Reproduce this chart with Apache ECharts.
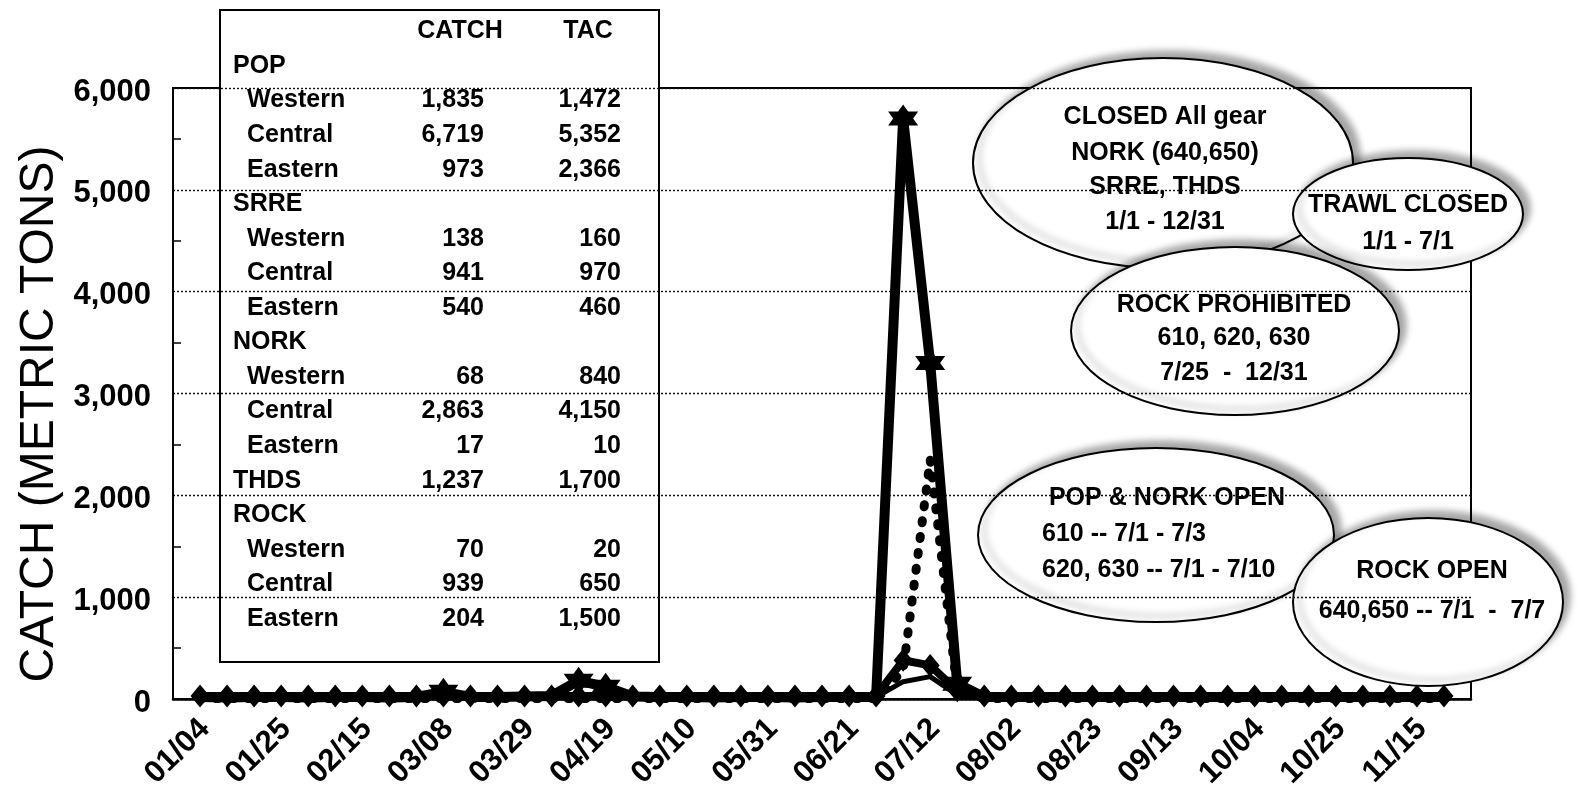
<!DOCTYPE html>
<html>
<head>
<meta charset="utf-8">
<script src="https://cdn.jsdelivr.net/npm/echarts@6/dist/echarts.min.js"></script>
<style>
html, body { margin: 0; padding: 0; background: #ffffff; }
#chart { width: 1584px; height: 791px; }
</style>
</head>
<body>
<div id="chart"></div>
<script>
// Weekly catch by fishery (metric tons), week-ending dates
const weeks = ['12/28','01/04','01/11','01/18','01/25','02/01','02/08','02/15','02/22','03/01',
  '03/08','03/15','03/22','03/29','04/05','04/12','04/19','04/26','05/03','05/10',
  '05/17','05/24','05/31','06/07','06/14','06/21','06/28','07/05','07/12','07/19',
  '07/26','08/02','08/09','08/16','08/23','08/30','09/06','09/13','09/20','09/27',
  '10/04','10/11','10/18','10/25','11/01','11/08','11/15','11/22','11/29'];

const popCatch = [null,20,15,20,20,15,20,20,15,20,
  70,20,20,25,30,180,120,25,20,20,
  15,20,20,15,20,20,20,5700,3300,150,
  20,20,20,20,20,20,20,20,20,20,
  20,20,20,20,20,20,20,20,null];

const norkCatch = [null,5,5,5,5,5,5,5,5,5,
  5,5,5,5,5,5,5,5,5,5,
  5,5,5,5,5,5,5,280,2350,90,
  5,5,5,5,5,5,5,5,5,5,
  5,5,5,5,5,5,5,5,null];

const rockCatch = [null,30,30,30,30,30,30,30,30,30,
  30,30,30,30,30,30,30,30,30,30,
  30,30,30,30,30,30,30,380,330,80,
  30,30,30,30,30,30,30,30,30,30,
  30,30,30,30,30,30,30,30,null];

const thdsCatch = [null,10,10,10,10,10,10,10,10,10,
  10,10,10,10,10,10,10,10,10,10,
  10,10,10,10,10,10,20,170,220,40,
  10,10,10,10,10,10,10,10,10,10,
  10,10,10,10,10,10,10,10,null];

// Catch / TAC summary table
const tableRows  = ['POP','Western','Central','Eastern','SRRE','Western','Central','Eastern',
  'NORK','Western','Central','Eastern','THDS','ROCK','Western','Central','Eastern'];
const tableCatch = [null,1835,6719,973,null,138,941,540,null,68,2863,17,1237,null,70,939,204];
const tableTac   = [null,1472,5352,2366,null,160,970,460,null,840,4150,10,1700,null,20,650,1500];
const groupNames = ['POP','SRRE','NORK','THDS','ROCK'];

// Fishery status notes
const noteClosed   = ['CLOSED All gear','NORK (640,650)','SRRE, THDS','1/1 - 12/31'];
const noteTrawl    = ['TRAWL CLOSED','1/1 - 7/1'];
const noteRockProh = ['ROCK PROHIBITED','610, 620, 630','7/25  -  12/31'];
const notePopNork  = ['POP & NORK OPEN','610 -- 7/1 - 7/3','620, 630 -- 7/1 - 7/10'];
const noteRockOpen = ['ROCK OPEN','640,650 -- 7/1  -  7/7'];

const FONT = '"Liberation Sans", Arial, sans-serif';
const STAR = 'path://M0,-10 L2.887,-5 L8.66,-5 L5.774,0 L8.66,5 L2.887,5 L0,10 L-2.887,5 L-8.66,5 L-5.774,0 L-8.66,-5 L-2.887,-5 Z';

const fmt = v => v == null ? '' : v.toLocaleString('en-US');

// ---- summary table graphic
const TBL = { x: 220, y: 10, w: 439, h: 652, groupX: 233, subX: 247, catchR: 484, tacR: 621, row0: 66, rowH: 34.56 };
const tableEls = [{
  type: 'rect', shape: { x: TBL.x, y: TBL.y, width: TBL.w, height: TBL.h },
  style: { fill: '#fff', stroke: '#000', lineWidth: 2 }
}, {
  type: 'text', x: 460, y: 31, style: { text: 'CATCH', font: 'bold 25px ' + FONT, fill: '#000', align: 'center', verticalAlign: 'middle' }
}, {
  type: 'text', x: 588, y: 31, style: { text: 'TAC', font: 'bold 25px ' + FONT, fill: '#000', align: 'center', verticalAlign: 'middle' }
}];
tableRows.forEach((name, i) => {
  const y = TBL.row0 + i * TBL.rowH;
  const isGroup = groupNames.includes(name);
  tableEls.push({ type: 'text', x: isGroup ? TBL.groupX : TBL.subX, y,
    style: { text: name, font: 'bold 25px ' + FONT, fill: '#000', align: 'left', verticalAlign: 'middle' } });
  if (tableCatch[i] != null) tableEls.push({ type: 'text', x: TBL.catchR, y,
    style: { text: fmt(tableCatch[i]), font: 'bold 25px ' + FONT, fill: '#000', align: 'right', verticalAlign: 'middle' } });
  if (tableTac[i] != null) tableEls.push({ type: 'text', x: TBL.tacR, y,
    style: { text: fmt(tableTac[i]), font: 'bold 25px ' + FONT, fill: '#000', align: 'right', verticalAlign: 'middle' } });
});

// ---- callout bubbles
function bubble(cx, cy, rx, ry, lines, textX, lineYs, align) {
  const els = [{
    type: 'ellipse', shape: { cx, cy, rx, ry },
    style: { fill: '#fff', stroke: '#000', lineWidth: 2,
      shadowColor: 'rgba(0,0,0,0.35)', shadowBlur: 7, shadowOffsetX: 6, shadowOffsetY: -6 }
  }];
  lines.forEach((t, i) => {
    const a = Array.isArray(align) ? align[i] : align;
    const x = Array.isArray(textX) ? textX[i] : textX;
    els.push({ type: 'text', x, y: lineYs[i],
      style: { text: t, font: 'bold 25px ' + FONT, fill: '#000', align: a, verticalAlign: 'middle' } });
  });
  return { type: 'group', children: els };
}

const bubbles = [
  bubble(1163, 163, 190, 105, noteClosed, 1165, [117, 153, 187, 222], 'center'),
  bubble(1408, 214, 115, 56, noteTrawl, 1408, [205, 242], 'center'),
  bubble(1235, 331, 164, 84, noteRockProh, 1234, [305, 338, 373], 'center'),
  bubble(1156, 535, 178, 87, notePopNork, [1167, 1042, 1042], [498, 534, 570], ['center', 'left', 'left']),
  bubble(1428, 602, 135, 84, noteRockOpen, 1432, [571, 611], 'center')
];

const chart = echarts.init(document.getElementById('chart'), null, { renderer: 'canvas' });

chart.setOption({
  animation: false,
  backgroundColor: '#fff',
  grid: {
    left: 173, right: 113, top: 88, bottom: 92,
    outerBoundsMode: 'none', containLabel: false,
    show: true, borderColor: '#000', borderWidth: 2, backgroundColor: 'transparent'
  },
  xAxis: {
    type: 'category',
    data: weeks,
    boundaryGap: false,
    axisLine: { show: true, lineStyle: { color: '#000', width: 2.5 } },
    axisTick: { show: false },
    axisLabel: {
      rotate: 45,
      interval: (idx) => idx >= 1 && idx <= 46 && (idx - 1) % 3 === 0,
      fontFamily: FONT, fontWeight: 'bold', fontSize: 31, color: '#000', margin: 20,
      verticalAlign: 'top', lineHeight: 14
    },
    splitLine: { show: false }
  },
  yAxis: {
    type: 'value',
    min: 0, max: 6000, interval: 1000,
    axisLine: { show: true, lineStyle: { color: '#000', width: 2 } },
    axisTick: { show: false, inside: true },
    minorTick: { show: true, splitNumber: 2, length: 8, lineStyle: { color: '#000', width: 1.5 } },
    axisLabel: { formatter: v => fmt(v), fontFamily: FONT, fontWeight: 'bold', fontSize: 31, color: '#000', margin: 22,
      verticalAlign: 'top', lineHeight: 8 },
    splitLine: { show: true, lineStyle: { color: '#111', width: 1.4, type: [2, 2] } }
  },
  series: [
    {
      name: 'THDS', type: 'line', data: thdsCatch, z: 2,
      symbol: 'none', lineStyle: { color: '#000', width: 5 }
    },
    {
      name: 'NORK', type: 'line', data: norkCatch, z: 3,
      symbol: 'none', lineStyle: { color: '#000', width: 9, type: [2, 14], cap: 'round' }
    },
    {
      name: 'ROCK', type: 'line', data: rockCatch, z: 4,
      symbol: 'diamond', symbolSize: [19, 23], showAllSymbol: true,
      itemStyle: { color: '#000' }, lineStyle: { color: '#000', width: 8 }
    },
    {
      name: 'POP', type: 'line', data: popCatch, z: 5,
      symbol: (v) => (v != null && v >= 50 ? STAR : 'none'), symbolSize: [30, 28], showAllSymbol: true,
      itemStyle: { color: '#000' }, lineStyle: { color: '#000', width: 10 }
    }
  ],
  graphic: [
    {
      type: 'text', x: 40, y: 414, rotation: Math.PI / 2, z: 50,
      style: { text: 'CATCH (METRIC TONS)', font: 'normal 48px ' + FONT, fill: '#000', align: 'center', verticalAlign: 'middle' }
    },
    { type: 'group', z: 100, children: tableEls },
    { type: 'group', z: 110, children: bubbles }
  ]
});
</script>
</body>
</html>
